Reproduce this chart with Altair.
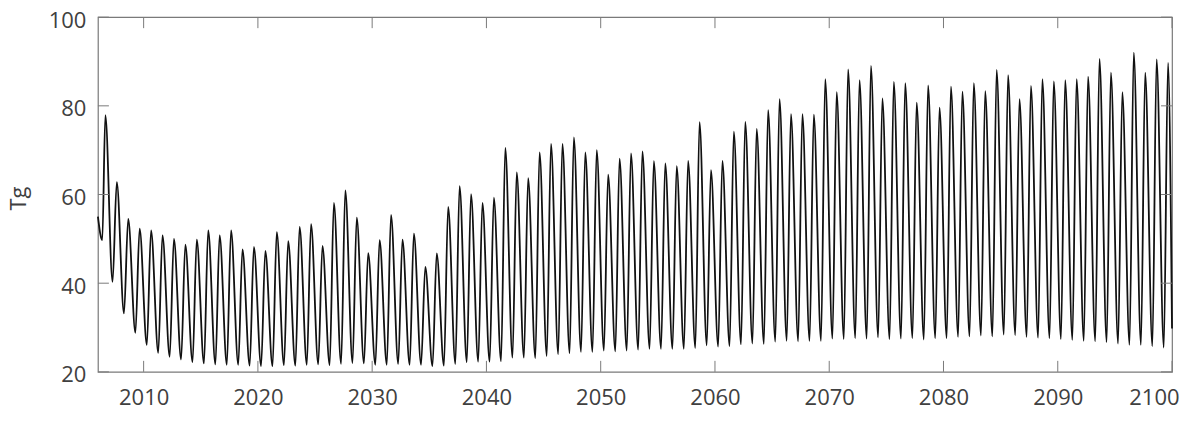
import altair as alt
import pandas as pd

# ---- data ----
peak_years = list(range(2006, 2100))
peaks = [
    77.9, 62.8, 54.5, 52.3, 51.9, 50.8, 50.0, 48.7, 49.8, 51.9,   # 2006-2015
    50.8, 51.9, 47.6, 48.2, 47.3, 51.5, 49.5, 52.7, 53.3, 48.4,   # 2016-2025
    58.1, 60.9, 54.8, 46.8, 49.7, 55.4, 49.8, 51.2, 43.7, 46.7,   # 2026-2035
    57.2, 61.9, 60.1, 58.1, 59.3, 70.5, 65.0, 63.7, 69.5, 71.4,   # 2036-2045
    71.4, 72.9, 69.5, 70.0, 64.5, 68.1, 69.3, 69.7, 67.5, 67.0,   # 2046-2055
    66.4, 67.6, 76.3, 65.5, 67.6, 74.2, 76.4, 74.8, 79.0, 81.5,   # 2056-2065
    78.1, 78.1, 78.0, 86.0, 83.1, 88.2, 85.8, 89.0, 81.7, 85.4,   # 2066-2075
    85.1, 80.7, 84.6, 79.6, 84.3, 83.2, 85.1, 83.3, 88.1, 86.9,   # 2076-2085
    81.5, 84.5, 86.0, 85.5, 85.8, 86.0, 86.6, 90.6, 87.5, 83.1,   # 2086-2095
    92.0, 87.5, 90.5, 89.7,                                       # 2096-2099
]
trough_years = list(range(2007, 2100))
troughs = [
    40.3, 33.2, 28.8, 26.1, 24.3, 23.4, 22.8, 22.2, 21.9,         # 2007-2015
    21.7, 21.6, 21.6, 21.4, 21.3, 21.3, 21.5, 21.4, 21.6, 21.7,   # 2016-2025
    21.5, 21.8, 22.0, 21.9, 21.6, 21.6, 21.8, 21.6, 21.6, 21.3,   # 2026-2035
    21.4, 21.8, 22.2, 22.3, 22.3, 22.4, 23.2, 23.2, 23.1, 23.6,   # 2036-2045
    24.0, 24.2, 24.5, 24.5, 24.8, 24.6, 24.8, 25.0, 25.2, 25.2,   # 2046-2055
    25.2, 25.2, 25.4, 26.0, 25.7, 25.8, 26.2, 26.4, 26.3, 26.8,   # 2056-2065
    27.0, 26.9, 27.0, 27.0, 27.5, 27.4, 27.6, 27.5, 27.8, 27.4,   # 2066-2075
    27.5, 27.6, 27.3, 27.6, 27.6, 27.9, 28.0, 28.2, 28.0, 28.4,   # 2076-2085
    28.3, 27.9, 27.7, 27.6, 27.4, 27.2, 27.0, 26.9, 26.7, 26.4,   # 2086-2095
    26.1, 26.1, 25.8, 25.5,                                       # 2096-2099
]
start_t = [2006.0, 2006.38]
start_v = [55.0, 49.7]
end_t = [2100.0]
end_v = [29.8]
peak_phase = 0.65
trough_phase = 0.28

x_ticks = [2010, 2020, 2030, 2040, 2050, 2060, 2070, 2080, 2090, 2100]
y_ticks = [20, 40, 60, 80, 100]
y_title = ["Tg"]

# ---- build table ----
rows = list(zip(start_t, start_v))
rows += [(y + peak_phase, v) for y, v in zip(peak_years, peaks)]
rows += [(y + trough_phase, v) for y, v in zip(trough_years, troughs)]
rows += list(zip(end_t, end_v))
df = pd.DataFrame(rows, columns=["t", "v"]).sort_values("t")

xt = pd.DataFrame({"t": x_ticks})
yt = pd.DataFrame({"v": y_ticks})
tt = pd.DataFrame({"label": y_title})

W, H = 1075, 355
TL = 11
FRAME = "#7a7a7a"
TXT = "#404040"
FONT = "Open Sans"

xs = alt.Scale(domain=[2006, 2100], nice=False, zero=False)
ys = alt.Scale(domain=[20, 100], nice=False, zero=False)

x_axis = alt.Axis(
    values=x_ticks, format="d", title=None, grid=False, domain=False,
    ticks=False, tickSize=0, labelFont=FONT, labelFontSize=22,
    labelColor=TXT, labelPadding=16, labelFlush=True, labelFlushOffset=7,
)
y_axis = alt.Axis(
    values=y_ticks, title=None, grid=False, domain=False,
    ticks=False, tickSize=0, labelFont=FONT, labelFontSize=22,
    labelColor=TXT, labelPadding=12, labelOffset=3,
)

line = alt.Chart(df).mark_line(
    color="#111111", strokeWidth=1.8, interpolate="monotone"
).encode(
    x=alt.X("t:Q", scale=xs, axis=x_axis),
    y=alt.Y("v:Q", scale=ys, axis=y_axis),
)

tick_style = dict(color=FRAME, strokeWidth=1)
y_left = alt.Chart(yt).mark_rule(**tick_style).encode(
    y=alt.Y("v:Q", scale=ys, axis=y_axis), x=alt.value(0), x2=alt.value(TL))
y_right = alt.Chart(yt).mark_rule(**tick_style).encode(
    y=alt.Y("v:Q", scale=ys, axis=y_axis), x=alt.value(W - TL), x2=alt.value(W))
x_bot = alt.Chart(xt).mark_rule(**tick_style).encode(
    x=alt.X("t:Q", scale=xs, axis=x_axis), y=alt.value(H), y2=alt.value(H - TL))
x_top = alt.Chart(xt).mark_rule(**tick_style).encode(
    x=alt.X("t:Q", scale=xs, axis=x_axis), y=alt.value(0), y2=alt.value(TL))

title = alt.Chart(tt).mark_text(
    angle=270, font=FONT, fontSize=22, color=TXT,
    align="center", baseline="bottom",
).encode(text="label:N", x=alt.value(-67), y=alt.value(H / 2 + 4))

chart = alt.layer(line, y_left, y_right, x_bot, x_top, title).properties(
    width=W, height=H,
    autosize=alt.AutoSizeParams(type="none"),
    padding={"left": 90, "top": 9, "right": 20, "bottom": 42},
).configure_view(stroke=FRAME, strokeWidth=1.2)

chart.save("out.html", embed_options={"renderer": "svg", "actions": False})
